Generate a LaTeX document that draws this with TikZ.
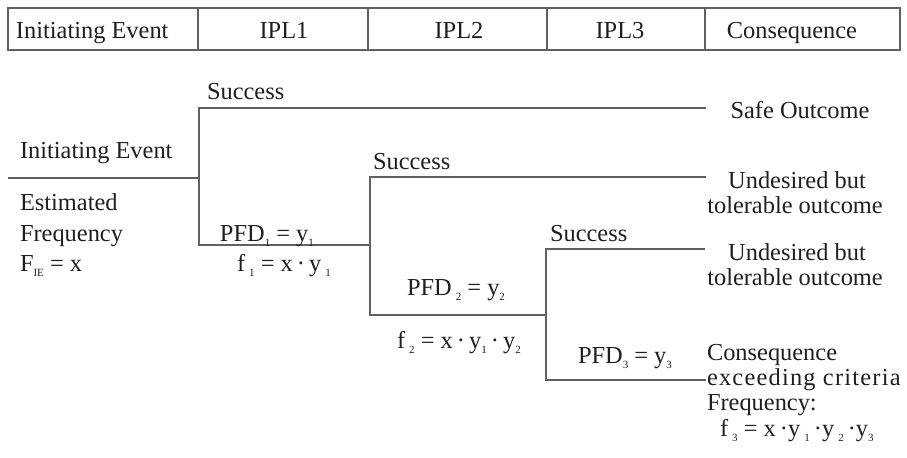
\documentclass[tikz,border=0pt]{standalone}
\usepackage{fontspec}
\setmainfont{Liberation Serif}
\newcommand{\sbs}[1]{\raisebox{-0.45ex}{\fontsize{5.5}{5.5}\selectfont #1}}
\begin{document}
\begin{tikzpicture}[x=0.5pt,y=-0.5pt,
  tline/.style={draw=black!62, line width=0.6pt},
  lbl/.style={inner sep=0pt, outer sep=0pt, anchor=base west, yshift=-0.8pt, font=\fontsize{12.2}{12.5}\selectfont, text=black!88},
  clbl/.style={lbl, anchor=base}]
\useasboundingbox (0,0) rectangle (907,458);
% header
\draw[tline] (8,8) rectangle (900,50);
\foreach \x in {198,368,547,705} \draw[tline] (\x,8) -- (\x,50);
\node[lbl] (hIE) at (16,37) {Initiating Event};
\node[clbl] (hI1) at (284,37) {IPL1};
\node[clbl] (hI2) at (459,37) {IPL2};
\node[clbl] (hI3) at (620,37) {IPL3};
\node[clbl] (hC) at (792,37) {Consequence};
% tree coordinates
\coordinate (ieL) at (8,178);
\coordinate (ieR) at (199,178);
\coordinate (b1t) at (199,108);
\coordinate (b1b) at (199,245);
\coordinate (s1e) at (706,108);
\coordinate (b2t) at (370,177);
\coordinate (b2m) at (370,245);
\coordinate (b2b) at (370,315);
\coordinate (s2e) at (706,177);
\coordinate (b3t) at (546,249);
\coordinate (b3m) at (546,315);
\coordinate (b3b) at (546,380);
\coordinate (s3e) at (705,249);
\coordinate (f3e) at (706,380);
\draw[tline] (ieL) -- (ieR);
\draw[tline] (s1e) -- (b1t) -- (b1b) -- (b2m);
\draw[tline] (s2e) -- (b2t) -- (b2b) -- (b3m);
\draw[tline] (s3e) -- (b3t) -- (b3b) -- (f3e);
% left labels
\node[lbl] (tS1) at (207,98) {Success};
\node[lbl] (tIE) at (20,157) {Initiating Event};
\node[lbl] (tEst) at (20,209) {Estimated};
\node[lbl] (tFrq) at (20,240) {Frequency};
\node[lbl] (tFie) at (20,270) {F\sbs{IE} = x};
\node[lbl] (tP1) at (220,240) {PFD\sbs{1} = y\sbs{1}};
\node[lbl] (tf1) at (237,270) {f\,\sbs{1} = x\,·\,y\,\sbs{1}};
\node[lbl] (tS2) at (373,168) {Success};
\node[lbl] (tP2) at (407,294) {PFD\,\sbs{2} = y\sbs{2}};
\node[lbl] (tf2) at (397,347) {f\,\sbs{2} = x\,·\,y\sbs{1}\,·\,y\sbs{2}};
\node[lbl] (tS3) at (550,240) {Success};
\node[lbl] (tP3) at (578,362) {PFD\sbs{3} = y\sbs{3}};
% outcomes
\node[clbl] (oSafe) at (800,117) {Safe Outcome};
\node[clbl] (oU1a) at (797,187) {Undesired but};
\node[clbl] (oU1b) at (795,212) {tolerable outcome};
\node[clbl] (oU2a) at (797,259) {Undesired but};
\node[clbl] (oU2b) at (795,284) {tolerable outcome};
\node[lbl] (oC1) at (707,359) {Consequence};
\node[lbl] (oC2) at (707,384) {\addfontfeatures{LetterSpace=5}exceeding criteria};
\node[lbl] (oC3) at (707,409) {Frequency:};
\node[lbl] (oC4) at (720,435) {f\,\sbs{3} = x\,·y\,\sbs{1}\,·y\,\sbs{2}\,·y\sbs{3}};
\end{tikzpicture}
\end{document}
